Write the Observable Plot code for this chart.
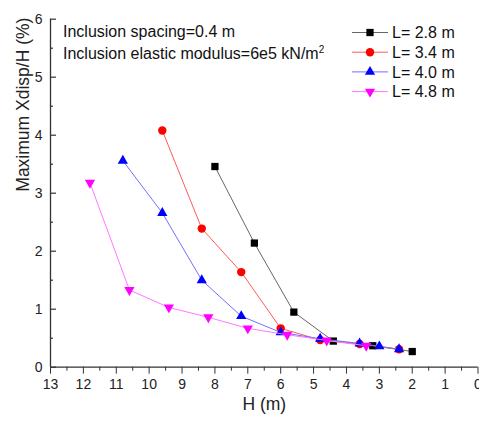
<!DOCTYPE html>
<html>
<head>
<meta charset="utf-8">
<script src="https://cdn.jsdelivr.net/npm/d3@7"></script>
<script src="https://cdn.jsdelivr.net/npm/@observablehq/plot@0.6"></script>
<style>
  html, body { margin: 0; padding: 0; background: #fff; }
  #wrap { position: relative; width: 479px; height: 421px; overflow: hidden; font-family: "Liberation Sans", Arial, sans-serif; }
  #overlay { position: absolute; left: 0; top: 0; pointer-events: none; }
</style>
</head>
<body>
<div id="wrap"></div>
<script>
// ---- Data ----
const seriesNames = ["L= 2.8 m", "L= 3.4 m", "L= 4.0 m", "L= 4.8 m"];
const H28 = [8.0, 6.8, 5.6, 4.4, 3.2, 2.0];
const V28 = [3.46, 2.14, 0.95, 0.45, 0.37, 0.27];
const H34 = [9.6, 8.4, 7.2, 6.0, 4.8, 3.6, 2.4];
const V34 = [4.08, 2.39, 1.64, 0.67, 0.47, 0.40, 0.31];
const H40 = [10.8, 9.6, 8.4, 7.2, 6.0, 4.8, 3.6, 3.0, 2.4];
const V40 = [3.56, 2.66, 1.50, 0.88, 0.60, 0.49, 0.41, 0.36, 0.31];
const H48 = [11.8, 10.6, 9.4, 8.2, 7.0, 5.8, 4.6, 3.4];
const V48 = [3.18, 1.33, 1.03, 0.86, 0.67, 0.56, 0.46, 0.37];
const xTicks = [13, 12, 11, 10, 9, 8, 7, 6, 5, 4, 3, 2, 1, 0];
const yTicks = [0, 1, 2, 3, 4, 5, 6];
const annotation1 = "Inclusion spacing=0.4 m";
const annotation2 = "Inclusion elastic modulus=6e5 kN/m";
const xLabel = "H (m)";
const yLabel = "Maximum Xdisp/H (%)";

// ---- Styles ----
const markerColors = ["#000000", "#ff0000", "#0000ff", "#ff00ff"];
const lineColors = ["#666666", "#ff5a5a", "#7070ff", "#ff78ff"];
const triangleDown = {
  draw(context, size) {
    const y = Math.sqrt(size / (Math.sqrt(3) * 3));
    context.moveTo(0, 2 * y);
    context.lineTo(-Math.sqrt(3) * y, -y);
    context.lineTo(Math.sqrt(3) * y, -y);
    context.closePath();
  }
};
const symbols = ["square", "circle", "triangle", triangleDown];
const d3symbols = [d3.symbolSquare, d3.symbolCircle, d3.symbolTriangle, triangleDown];
const radii = [4.1, 4.2, 3.8, 3.8];

const Hs = [H28, H34, H40, H48];
const Vs = [V28, V34, V40, V48];
const series = seriesNames.map((name, s) => Hs[s].map((h, i) => ({name, h, v: Vs[s][i]})));

const xMinor = d3.range(0.5, 13, 1);
const yMinor = d3.range(0.5, 6, 1);

const W = 479, Hh = 421, mL = 50, mR = 1.5, mT = 18.7, mB = 54.3;
const frameW = W - mL - mR;
const axisColor = "#333";

const marks = [
  // axis lines
  Plot.ruleY([0], {stroke: axisColor, strokeWidth: 1.3}),
  Plot.ruleX([13], {stroke: axisColor, strokeWidth: 1.3}),
  // x ticks (outward)
  Plot.axisX({ticks: xTicks, tickSize: 7, tickPadding: 5, label: null, stroke: axisColor, color: "#222", tickFormat: d => String(d)}),
  Plot.axisX({ticks: xMinor, tickSize: 4, text: null, label: null, stroke: axisColor}),
  // y labels
  Plot.axisY({ticks: yTicks, tickSize: 0, tickPadding: 8, label: null, color: "#222", tickFormat: d => String(d)}),
  // y ticks (inward)
  Plot.tickY(yTicks, {y: d => d, stroke: axisColor, strokeWidth: 1.2, insetRight: frameW - 6}),
  Plot.tickY(yMinor, {y: d => d, stroke: axisColor, strokeWidth: 1.2, insetRight: frameW - 3}),
  // axis titles
  Plot.text([xLabel], {text: d => d, frameAnchor: "bottom", dy: 43, fontSize: 17.5, fill: "#222"}),
  Plot.text([yLabel], {text: d => d, frameAnchor: "left", dx: -27, dy: -1.5, rotate: -90, fontSize: 17.5, fill: "#222"})
];

series.forEach((rows, s) => {
  marks.push(Plot.line(rows, {x: "h", y: "v", stroke: lineColors[s], strokeWidth: 1}));
  marks.push(Plot.dot(rows, {x: "h", y: "v", symbol: symbols[s], r: radii[s], fill: markerColors[s], stroke: "none"}));
});

const chart = Plot.plot({
  width: W, height: Hh,
  marginLeft: mL, marginRight: mR, marginTop: mT, marginBottom: mB,
  style: {fontFamily: "'Liberation Sans', Arial, sans-serif", fontSize: "14px", background: "white", overflow: "visible"},
  x: {domain: [13, 0]},
  y: {domain: [0, 6]},
  marks
});
document.getElementById("wrap").appendChild(chart);

// ---- overlay: annotation & legend ----
const svg = d3.select("#wrap").append("svg")
  .attr("id", "overlay").attr("width", W).attr("height", Hh)
  .style("font-family", "'Liberation Sans', Arial, sans-serif");

const ann = svg.append("g").attr("font-size", 16).attr("fill", "#111");
ann.append("text").attr("x", 63).attr("y", 37).text(annotation1);
const t2 = ann.append("text").attr("x", 63).attr("y", 59);
t2.append("tspan").text(annotation2);
t2.append("tspan").attr("dy", -6).attr("font-size", 10).text("2");

const leg = svg.append("g");
seriesNames.forEach((name, s) => {
  const cy = 32.5 + s * 19.7;
  const g = leg.append("g");
  g.append("line").attr("x1", 352).attr("x2", 388).attr("y1", cy).attr("y2", cy)
    .attr("stroke", lineColors[s]).attr("stroke-width", 1);
  g.append("path").attr("transform", `translate(370,${cy})`)
    .attr("d", d3.symbol(d3symbols[s], radii[s] * radii[s] * Math.PI)())
    .attr("fill", markerColors[s]);
  g.append("text").attr("x", 392).attr("y", cy + 5.8).attr("font-size", 16).attr("fill", "#111").text(name);
});
</script>
</body>
</html>
